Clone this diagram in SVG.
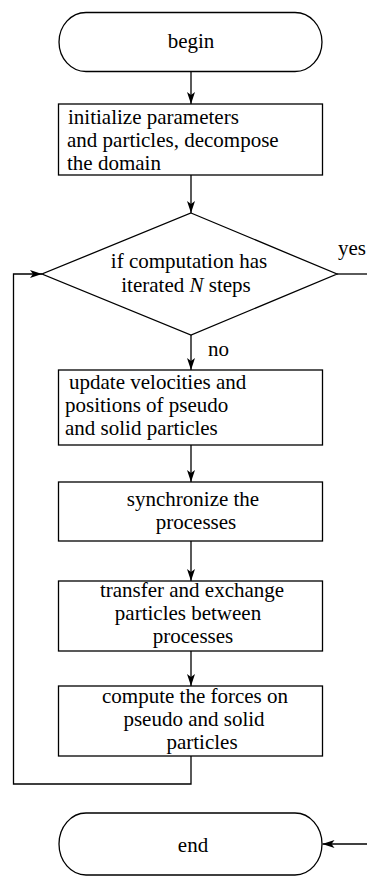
<svg xmlns="http://www.w3.org/2000/svg" width="367" height="877" viewBox="0 0 367 877" font-family="'Liberation Serif', 'Times New Roman', 'DejaVu Serif', serif" font-size="21">
<style>
.s{fill:#fff;stroke:#000;stroke-width:1.3}
.c{fill:none;stroke:#000;stroke-width:1.3}
.m{text-anchor:middle}
</style>
<defs>
<marker id="ah" viewBox="0 0 12 8" refX="12" refY="4" markerWidth="12" markerHeight="8" markerUnits="userSpaceOnUse" orient="auto">
<path d="M0,0 L12,4 L0,8 L3,4 Z" fill="#000"/>
</marker>
</defs>
<rect width="367" height="877" fill="#fff"/>
<g id="begin">
<path class="s" d="M86,12.5 H295 A27,29.5 0 0 1 295,71.5 H86 A27,29.5 0 0 1 86,12.5 Z"/>
<text class="m" x="191" y="48">begin</text>
</g>
<g id="init">
<rect class="s" x="58.5" y="104" width="264" height="71"/>
<text x="68" y="124">initialize parameters</text>
<text x="67" y="147">and particles, decompose</text>
<text x="67" y="170">the domain</text>
</g>
<g id="decision">
<polygon class="s" points="191,213 337,274 191,335 42,274"/>
<text class="m" x="189" y="268">if computation has</text>
<text class="m" x="186" y="292">iterated <tspan font-style="italic">N</tspan> steps</text>
</g>
<g id="update">
<rect class="s" x="58.5" y="370" width="264" height="75"/>
<text x="69" y="389">update velocities and</text>
<text x="65" y="412">positions of pseudo</text>
<text x="65" y="435">and solid particles</text>
</g>
<g id="sync">
<rect class="s" x="58.5" y="482" width="264" height="59"/>
<text class="m" x="193" y="506">synchronize the</text>
<text class="m" x="196" y="529">processes</text>
</g>
<g id="transfer">
<rect class="s" x="58.5" y="581" width="264" height="70"/>
<text class="m" x="192" y="597">transfer and exchange</text>
<text class="m" x="188" y="620">particles between</text>
<text class="m" x="193" y="643">processes</text>
</g>
<g id="forces">
<rect class="s" x="58.5" y="686" width="264" height="70"/>
<text class="m" x="195" y="703">compute the forces on</text>
<text class="m" x="194" y="726">pseudo and solid</text>
<text class="m" x="202" y="749">particles</text>
</g>
<g id="end">
<path class="s" d="M86,813 H295 A27,31 0 0 1 295,875 H86 A27,31 0 0 1 86,813 Z"/>
<text class="m" x="193" y="852">end</text>
</g>
<g id="connectors">
<line class="c" x1="191" y1="71.5" x2="191" y2="104" marker-end="url(#ah)"/>
<line class="c" x1="191" y1="175" x2="191" y2="213" marker-end="url(#ah)"/>
<line class="c" x1="191" y1="335" x2="191" y2="370" marker-end="url(#ah)"/>
<line class="c" x1="191" y1="445" x2="191" y2="482" marker-end="url(#ah)"/>
<line class="c" x1="191" y1="541" x2="191" y2="581" marker-end="url(#ah)"/>
<line class="c" x1="191" y1="651" x2="191" y2="686" marker-end="url(#ah)"/>
<polyline class="c" points="191,756 191,784 13.5,784 13.5,274 42,274" marker-end="url(#ah)"/>
<line class="c" x1="337" y1="274" x2="367" y2="274"/>
<line class="c" x1="367" y1="844" x2="322.5" y2="844" marker-end="url(#ah)"/>
<text x="208" y="356">no</text>
<text x="338" y="255">yes</text>
</g>
</svg>
